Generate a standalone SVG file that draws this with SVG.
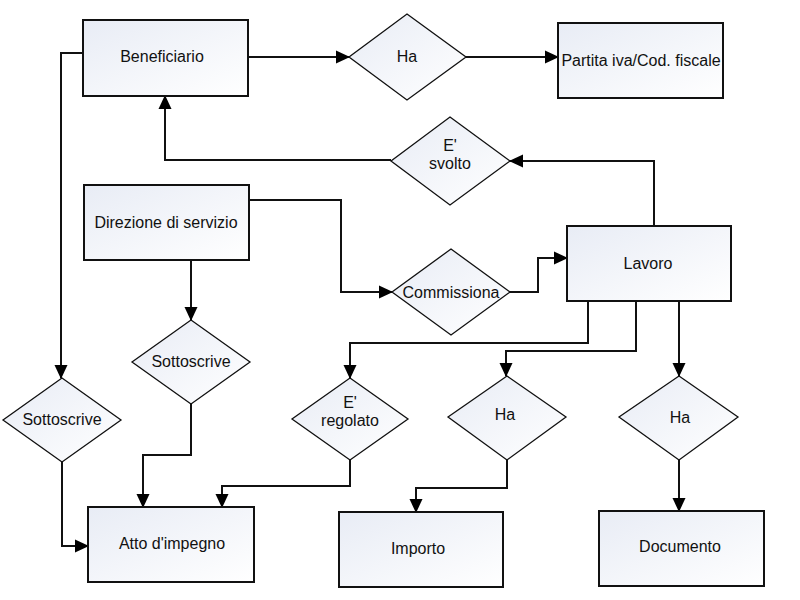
<svg xmlns="http://www.w3.org/2000/svg" width="800" height="600" viewBox="0 0 800 600">
<defs>
<linearGradient id="g" x1="0" y1="0" x2="1" y2="1">
<stop offset="0" stop-color="#e8ecf5"/>
<stop offset="1" stop-color="#ffffff"/>
</linearGradient>
<marker id="a" markerUnits="userSpaceOnUse" markerWidth="14" markerHeight="14" viewBox="0 0 14 14" refX="13" refY="7" orient="auto">
<path d="M0,0.5 L14,7 L0,13.5 Z" fill="#000"/>
</marker>
</defs>
<style>
.box{fill:url(#g);stroke:#111;stroke-width:2}
.dia{fill:url(#g);stroke:#111;stroke-width:1.3}
.t{font-family:"Liberation Sans",Arial,sans-serif;font-size:16px;fill:#111;text-anchor:middle;dominant-baseline:central}
.c{fill:none;stroke:#111;stroke-width:2}
</style>
<rect width="800" height="600" fill="#fff"/>
<g id="connectors">
<path class="c" d="M248,57 H349" marker-end="url(#a)"/>
<path class="c" d="M466,57 H558" marker-end="url(#a)"/>
<path class="c" d="M654,226 V161 H510" marker-end="url(#a)"/>
<path class="c" d="M391,160 H165 V96" marker-end="url(#a)"/>
<path class="c" d="M249,200 H341 V292 H392" marker-end="url(#a)"/>
<path class="c" d="M510,292 H538 V258 H567" marker-end="url(#a)"/>
<path class="c" d="M588,301 V343 H350 V378" marker-end="url(#a)"/>
<path class="c" d="M636,301 V351 H506 V376" marker-end="url(#a)"/>
<path class="c" d="M679,301 V376" marker-end="url(#a)"/>
<path class="c" d="M83,53 H61 V378" marker-end="url(#a)"/>
<path class="c" d="M62,462 V546 H88" marker-end="url(#a)"/>
<path class="c" d="M191,260 V320" marker-end="url(#a)"/>
<path class="c" d="M191,404 V455 H143 V507" marker-end="url(#a)"/>
<path class="c" d="M350,460 V486 H222 V507" marker-end="url(#a)"/>
<path class="c" d="M507,460 V488 H416 V512" marker-end="url(#a)"/>
<path class="c" d="M679,460 V511" marker-end="url(#a)"/>
</g>
<g id="beneficiario"><rect class="box" x="83" y="20" width="165" height="76"/><text class="t" x="162" y="56">Beneficiario</text></g>
<g id="ha1"><polygon class="dia" points="407,14 466,57 407,100 349,57"/><text class="t" x="407" y="56">Ha</text></g>
<g id="partita"><rect class="box" x="558" y="23" width="165" height="75"/><text class="t" x="641" y="60">Partita iva/Cod. fiscale</text></g>
<g id="svolto"><polygon class="dia" points="450,117 510,161 450,205 391,161"/><text class="t" x="450" y="145">E'</text><text class="t" x="450" y="163">svolto</text></g>
<g id="direzione"><rect class="box" x="84" y="185" width="165" height="75"/><text class="t" x="166" y="222">Direzione di servizio</text></g>
<g id="commissiona"><polygon class="dia" points="451,249 510,292 451,335 392,292"/><text class="t" x="451" y="292">Commissiona</text></g>
<g id="lavoro"><rect class="box" x="567" y="226" width="164" height="75"/><text class="t" x="648" y="263">Lavoro</text></g>
<g id="sottoscrive1"><polygon class="dia" points="62,378 121,420 62,462 3,420"/><text class="t" x="62" y="419">Sottoscrive</text></g>
<g id="sottoscrive2"><polygon class="dia" points="191,320 250,362 191,404 132,362"/><text class="t" x="191" y="361">Sottoscrive</text></g>
<g id="regolato"><polygon class="dia" points="350,378 408,419 350,460 292,419"/><text class="t" x="350" y="402">E'</text><text class="t" x="350" y="420">regolato</text></g>
<g id="ha2"><polygon class="dia" points="507,376 566,417 507,460 448,417"/><text class="t" x="505" y="414">Ha</text></g>
<g id="ha3"><polygon class="dia" points="679,376 738,417 679,460 619,417"/><text class="t" x="680" y="417">Ha</text></g>
<g id="atto"><rect class="box" x="88" y="507" width="166" height="75"/><text class="t" x="172" y="543">Atto d'impegno</text></g>
<g id="importo"><rect class="box" x="339" y="512" width="164" height="75"/><text class="t" x="418" y="548">Importo</text></g>
<g id="documento"><rect class="box" x="599" y="511" width="165" height="75"/><text class="t" x="680" y="546">Documento</text></g>
</svg>
